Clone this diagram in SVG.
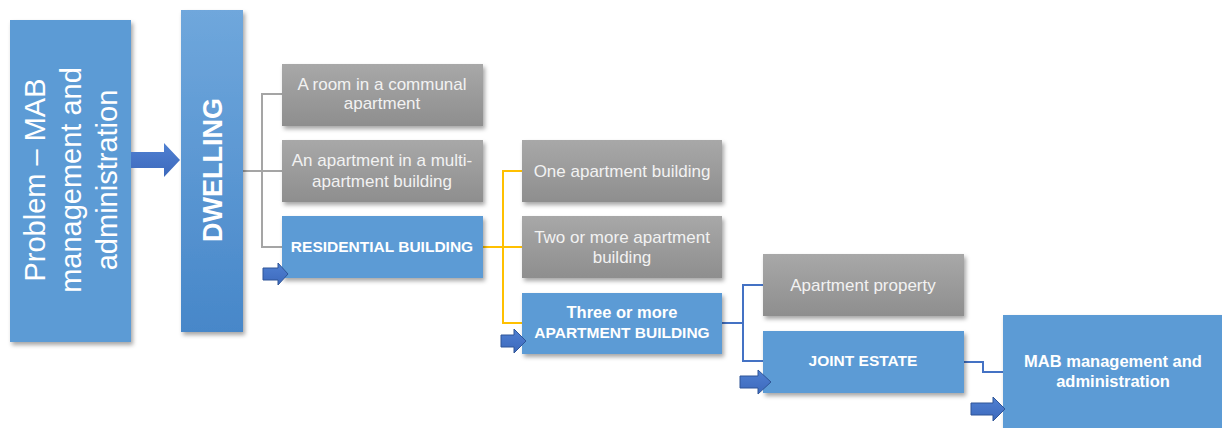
<svg xmlns="http://www.w3.org/2000/svg" width="1222" height="428" viewBox="0 0 1222 428">
<defs>
<filter id="sh" x="-10%" y="-10%" width="130%" height="140%">
<feDropShadow dx="2" dy="3" stdDeviation="2" flood-color="#000" flood-opacity="0.35"/>
</filter>
<linearGradient id="gGray" x1="0" y1="0" x2="0" y2="1">
<stop offset="0" stop-color="#A8A8A8"/>
<stop offset="1" stop-color="#8E8E8E"/>
</linearGradient>
<linearGradient id="gDwell" x1="0" y1="0" x2="0" y2="1">
<stop offset="0" stop-color="#6FA7DC"/>
<stop offset="1" stop-color="#4787C9"/>
</linearGradient>
<linearGradient id="gArrow" x1="0" y1="0" x2="0" y2="1">
<stop offset="0" stop-color="#4F80D2"/>
<stop offset="1" stop-color="#3D69BC"/>
</linearGradient>
</defs>
<style>
.blue{fill:#5B9BD5;}
.gray{fill:url(#gGray);}
.t{font-family:"Liberation Sans",Arial,sans-serif;fill:#fff;text-anchor:middle;font-size:17px;}
.g{fill:#F2F2F2;}
.b{font-weight:bold;font-size:15.5px;}
.bm{font-size:16.5px;}
.conn{fill:none;stroke-width:2;}
.arr{fill:url(#gArrow);stroke:#2F5597;stroke-width:1;}
</style>

<g id="connectors">
<polyline class="conn" stroke="#A5A5A5" points="243,171 262,171"/>
<polyline class="conn" stroke="#A5A5A5" points="282,94 262,94 262,247 282,247"/>
<polyline class="conn" stroke="#A5A5A5" points="262,171 282,171"/>
<polyline class="conn" stroke="#FFC000" points="483,247 503,247"/>
<polyline class="conn" stroke="#FFC000" points="522,171 503,171 503,323 522,323"/>
<polyline class="conn" stroke="#FFC000" points="503,247 522,247"/>
<polyline class="conn" stroke="#4472C4" points="722,323 743,323"/>
<polyline class="conn" stroke="#4472C4" points="763,285 743,285 743,361 763,361"/>
<polyline class="conn" stroke="#4472C4" points="964,362 983,362 983,372 1003,372"/>
</g>

<g id="problem">
<rect class="blue" x="10" y="20" width="121" height="322" filter="url(#sh)"/>
<text class="t" style="font-size:29px" transform="translate(45,180) rotate(-90)">Problem – MAB</text>
<text class="t" style="font-size:29px" transform="translate(81,180) rotate(-90)">management and</text>
<text class="t" style="font-size:29px" transform="translate(117,180) rotate(-90)">administration</text>
</g>

<g id="arrow-main">
<polygon points="131,152 164,152 164,143 180,160 164,177 164,168 131,168" fill="url(#gArrow)"/>
</g>

<g id="dwelling">
<rect x="181" y="10" width="62" height="322" fill="url(#gDwell)" filter="url(#sh)"/>
<text class="t" style="font-size:27px;font-weight:bold" transform="translate(222,170) rotate(-90)">DWELLING</text>
</g>

<g id="room">
<rect class="gray" x="282" y="64" width="201" height="62" filter="url(#sh)"/>
<text class="t g" x="382" y="90">A room in a communal</text>
<text class="t g" x="382" y="109">apartment</text>
</g>

<g id="apartment-multi">
<rect class="gray" x="282" y="140" width="201" height="62" filter="url(#sh)"/>
<text class="t g" x="382" y="166">An apartment in a multi-</text>
<text class="t g" x="382" y="187">apartment building</text>
</g>

<g id="residential">
<rect class="blue" x="282" y="216" width="201" height="62" filter="url(#sh)"/>
<text class="t b" x="382" y="252">RESIDENTIAL BUILDING</text>
<polygon class="arr" points="263,268 278,268 278,263 288,274 278,285 278,280 263,280"/>
</g>

<g id="one-apartment">
<rect class="gray" x="522" y="140" width="200" height="62" filter="url(#sh)"/>
<text class="t g" x="622" y="177">One apartment building</text>
</g>

<g id="two-or-more">
<rect class="gray" x="522" y="216" width="200" height="62" filter="url(#sh)"/>
<text class="t g" x="622" y="243">Two or more apartment</text>
<text class="t g" x="622" y="263">building</text>
</g>

<g id="three-or-more">
<rect class="blue" x="522" y="293" width="200" height="61" filter="url(#sh)"/>
<text class="t b bm" x="622" y="318">Three or more</text>
<text class="t b" x="622" y="338">APARTMENT BUILDING</text>
<polygon class="arr" points="501,335 514,335 514,329 526,341 514,353 514,347 501,347"/>
</g>

<g id="apartment-property">
<rect class="gray" x="763" y="254" width="201" height="62" filter="url(#sh)"/>
<text class="t g" x="863" y="291">Apartment property</text>
</g>

<g id="joint-estate">
<rect class="blue" x="763" y="331" width="201" height="62" filter="url(#sh)"/>
<text class="t b" x="863" y="366">JOINT ESTATE</text>
<polygon class="arr" points="740,376 758,376 758,370 771,382 758,394 758,388 740,388"/>
</g>

<g id="mab">
<rect class="blue" x="1003" y="315" width="225" height="120" filter="url(#sh)"/>
<text class="t b bm" x="1113" y="367">MAB management and</text>
<text class="t b bm" x="1113" y="387">administration</text>
<polygon class="arr" points="971,403 993,403 993,397 1005,409 993,421 993,415 971,415"/>
</g>
</svg>
